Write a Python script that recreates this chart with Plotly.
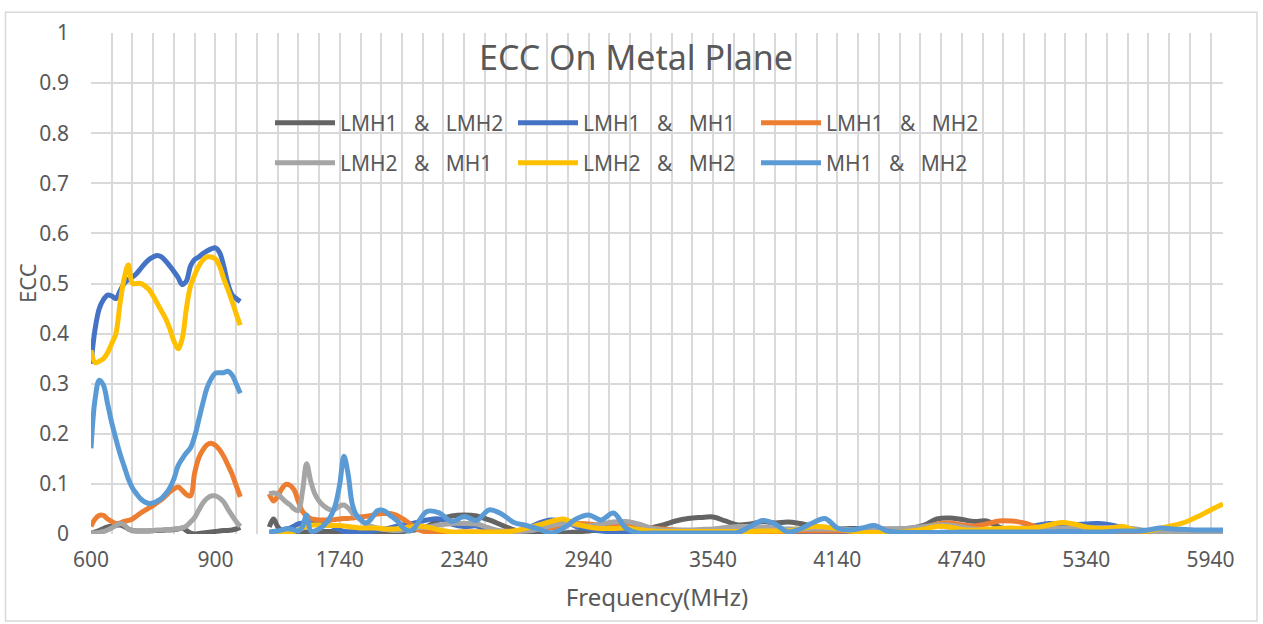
import plotly.graph_objects as go

# ---------------- categories (Excel category axis) ----------------
freq_low = list(range(600, 961, 10))            # 37 rows
gap_rows = 6                                     # empty rows in the sheet
freq_all_high = list(range(1400, 6001, 20))      # 231 rows
freq_mid = list(range(1400, 2081, 20))           # sampled values 1400-2080
freq_high = list(range(2100, 6001, 60))          # sampled values 2100-6000
tick_labels = ["600", "900", "1740", "2340", "2940", "3540", "4140", "4740", "5340", "5940"]

series_names = ["LMH1 & LMH2", "LMH1 & MH1", "LMH1 & MH2",
                "LMH2 & MH1", "LMH2 & MH2", "MH1 & MH2"]
series_colors = ["#646464", "#4472C4", "#ED7D31", "#A5A5A5", "#FFC000", "#5B9BD5"]

# ---------------- values ----------------
lmh1_lmh2_low = [0.002, 0.004, 0.007, 0.011, 0.014, 0.016, 0.017, 0.018, 0.015, 0.010,
                 0.007, 0.006, 0.006, 0.006, 0.006, 0.007, 0.007, 0.007, 0.008, 0.008,
                 0.009, 0.010, 0.012, 0.007, 0.002, 0.000, 0.001, 0.002, 0.003, 0.004,
                 0.005, 0.006, 0.007, 0.007, 0.008, 0.010, 0.013]
lmh1_mh1_low = [0.340, 0.410, 0.450, 0.468, 0.477, 0.475, 0.470, 0.485, 0.500, 0.508,
                0.513, 0.520, 0.530, 0.540, 0.548, 0.553, 0.556, 0.553, 0.545, 0.535,
                0.524, 0.512, 0.498, 0.505, 0.535, 0.548, 0.553, 0.560, 0.565, 0.569,
                0.571, 0.562, 0.535, 0.500, 0.478, 0.470, 0.464]
lmh1_mh2_low = [0.015, 0.030, 0.037, 0.037, 0.030, 0.025, 0.021, 0.022, 0.025, 0.027,
                0.030, 0.036, 0.042, 0.047, 0.052, 0.057, 0.063, 0.069, 0.076, 0.084,
                0.090, 0.094, 0.087, 0.079, 0.076, 0.122, 0.152, 0.168, 0.178, 0.181,
                0.177, 0.168, 0.155, 0.138, 0.120, 0.097, 0.074]
lmh2_mh1_low = [0.003, 0.002, 0.003, 0.005, 0.008, 0.012, 0.017, 0.021, 0.018, 0.010,
                0.007, 0.006, 0.006, 0.006, 0.007, 0.007, 0.008, 0.008, 0.009, 0.009,
                0.010, 0.011, 0.012, 0.016, 0.024, 0.033, 0.048, 0.062, 0.071, 0.076,
                0.076, 0.072, 0.064, 0.050, 0.037, 0.025, 0.015]
lmh2_mh2_low = [0.367, 0.342, 0.345, 0.350, 0.362, 0.380, 0.400, 0.460, 0.510, 0.537,
                0.500, 0.500, 0.500, 0.495, 0.488, 0.475, 0.460, 0.445, 0.430, 0.410,
                0.385, 0.370, 0.390, 0.450, 0.495, 0.517, 0.535, 0.547, 0.553, 0.553,
                0.549, 0.535, 0.510, 0.488, 0.465, 0.440, 0.417]
mh1_mh2_low = [0.171, 0.270, 0.307, 0.297, 0.260, 0.222, 0.190, 0.160, 0.135, 0.110,
               0.092, 0.080, 0.070, 0.064, 0.061, 0.062, 0.066, 0.071, 0.080, 0.092,
               0.110, 0.136, 0.150, 0.162, 0.172, 0.195, 0.228, 0.262, 0.292, 0.310,
               0.321, 0.322, 0.322, 0.325, 0.318, 0.300, 0.281]

lmh1_lmh2_mid = [0.014, 0.030, 0.015, 0.006, 0.004, 0.003, 0.003, 0.003, 0.004, 0.004,
                 0.004, 0.004, 0.004, 0.005, 0.005, 0.005, 0.004, 0.004, 0.004, 0.004,
                 0.004, 0.004, 0.004, 0.004, 0.004, 0.004, 0.004, 0.004, 0.004, 0.004,
                 0.004, 0.005, 0.005, 0.006, 0.007]
lmh1_mh1_mid = [0.003, 0.004, 0.006, 0.008, 0.010, 0.012, 0.016, 0.020, 0.022, 0.022,
                0.022, 0.021, 0.020, 0.020, 0.019, 0.017, 0.012, 0.008, 0.005, 0.004,
                0.004, 0.004, 0.004, 0.005, 0.005, 0.006, 0.008, 0.009, 0.010, 0.012,
                0.014, 0.016, 0.018, 0.019, 0.020]
lmh1_mh2_mid = [0.080, 0.066, 0.075, 0.090, 0.099, 0.097, 0.088, 0.065, 0.045, 0.036,
                0.031, 0.029, 0.028, 0.028, 0.028, 0.028, 0.029, 0.030, 0.031, 0.031,
                0.032, 0.033, 0.034, 0.035, 0.036, 0.038, 0.040, 0.041, 0.041, 0.041,
                0.039, 0.036, 0.031, 0.026, 0.020]
lmh2_mh1_mid = [0.080, 0.082, 0.080, 0.072, 0.064, 0.058, 0.050, 0.047, 0.085, 0.140,
                0.105, 0.080, 0.066, 0.057, 0.051, 0.048, 0.050, 0.056, 0.058, 0.052,
                0.042, 0.035, 0.028, 0.022, 0.017, 0.014, 0.012, 0.010, 0.009, 0.008,
                0.007, 0.007, 0.008, 0.009, 0.010]
lmh2_mh2_mid = [0.002, 0.002, 0.002, 0.003, 0.004, 0.004, 0.005, 0.008, 0.012, 0.016,
                0.018, 0.018, 0.018, 0.017, 0.017, 0.017, 0.017, 0.017, 0.016, 0.015,
                0.014, 0.013, 0.012, 0.012, 0.012, 0.012, 0.012, 0.011, 0.010, 0.010,
                0.010, 0.011, 0.012, 0.013, 0.014]
mh1_mh2_mid = [0.004, 0.005, 0.006, 0.008, 0.010, 0.010, 0.008, 0.006, 0.015, 0.038,
               0.006, 0.006, 0.010, 0.016, 0.025, 0.038, 0.060, 0.100, 0.155, 0.120,
               0.060, 0.038, 0.030, 0.022, 0.025, 0.035, 0.046, 0.048, 0.045, 0.038,
               0.032, 0.025, 0.015, 0.008, 0.006]

lmh1_lmh2_high = [0.008, 0.015, 0.028, 0.036, 0.038, 0.036, 0.028, 0.018, 0.008, 0.003,
                  0.001, 0.001, 0.002, 0.004, 0.006, 0.008, 0.008, 0.007, 0.008, 0.012,
                  0.018, 0.026, 0.031, 0.033, 0.034, 0.026, 0.018, 0.020, 0.025, 0.022,
                  0.024, 0.021, 0.016, 0.012, 0.010, 0.011, 0.011, 0.010, 0.010, 0.010,
                  0.012, 0.018, 0.030, 0.032, 0.029, 0.025, 0.026, 0.014, 0.006, 0.004,
                  0.003, 0.003, 0.003, 0.003, 0.003, 0.003, 0.003, 0.003, 0.003, 0.003,
                  0.003, 0.003, 0.003, 0.003, 0.003, 0.003]
lmh1_mh1_high = [0.022, 0.028, 0.030, 0.020, 0.015, 0.016, 0.008, 0.005, 0.004, 0.010,
                 0.022, 0.028, 0.025, 0.015, 0.010, 0.006, 0.004, 0.003, 0.003, 0.003,
                 0.003, 0.003, 0.003, 0.003, 0.003, 0.003, 0.003, 0.003, 0.003, 0.003,
                 0.003, 0.003, 0.003, 0.003, 0.003, 0.003, 0.003, 0.003, 0.003, 0.003,
                 0.003, 0.003, 0.003, 0.004, 0.005, 0.006, 0.007, 0.008, 0.010, 0.012,
                 0.017, 0.021, 0.020, 0.019, 0.020, 0.021, 0.018, 0.012, 0.006, 0.003,
                 0.002, 0.002, 0.002, 0.002, 0.002, 0.002]
lmh1_mh2_high = [0.012, 0.004, 0.003, 0.003, 0.004, 0.004, 0.004, 0.005, 0.006, 0.008,
                 0.010, 0.012, 0.016, 0.021, 0.020, 0.018, 0.021, 0.020, 0.015, 0.012,
                 0.010, 0.008, 0.006, 0.005, 0.004, 0.004, 0.004, 0.004, 0.004, 0.005,
                 0.005, 0.006, 0.006, 0.006, 0.006, 0.006, 0.006, 0.007, 0.008, 0.008,
                 0.010, 0.013, 0.020, 0.022, 0.018, 0.016, 0.020, 0.026, 0.026, 0.022,
                 0.014, 0.008, 0.005, 0.004, 0.004, 0.004, 0.004, 0.004, 0.005, 0.006,
                 0.006, 0.005, 0.004, 0.003, 0.003, 0.003]
lmh2_mh1_high = [0.012, 0.014, 0.018, 0.021, 0.021, 0.020, 0.012, 0.006, 0.005, 0.006,
                 0.010, 0.017, 0.021, 0.018, 0.016, 0.020, 0.024, 0.025, 0.020, 0.012,
                 0.008, 0.008, 0.008, 0.009, 0.010, 0.013, 0.015, 0.015, 0.014, 0.012,
                 0.010, 0.010, 0.010, 0.010, 0.010, 0.009, 0.008, 0.008, 0.009, 0.010,
                 0.012, 0.015, 0.018, 0.018, 0.014, 0.010, 0.009, 0.008, 0.008, 0.008,
                 0.008, 0.010, 0.012, 0.012, 0.012, 0.013, 0.013, 0.012, 0.010, 0.006,
                 0.003, 0.002, 0.002, 0.002, 0.002, 0.002]
lmh2_mh2_high = [0.016, 0.014, 0.008, 0.004, 0.004, 0.004, 0.004, 0.004, 0.006, 0.012,
                 0.018, 0.025, 0.030, 0.020, 0.014, 0.011, 0.011, 0.012, 0.009, 0.006,
                 0.005, 0.005, 0.005, 0.005, 0.005, 0.005, 0.005, 0.005, 0.006, 0.006,
                 0.006, 0.010, 0.015, 0.014, 0.011, 0.006, 0.003, 0.003, 0.004, 0.005,
                 0.006, 0.010, 0.015, 0.014, 0.009, 0.008, 0.010, 0.011, 0.012, 0.011,
                 0.013, 0.018, 0.023, 0.020, 0.014, 0.011, 0.012, 0.015, 0.007, 0.006,
                 0.012, 0.017, 0.024, 0.035, 0.048, 0.060]
mh1_mh2_high = [0.012, 0.045, 0.042, 0.025, 0.035, 0.027, 0.048, 0.040, 0.023, 0.017,
                0.010, 0.002, 0.012, 0.030, 0.038, 0.028, 0.042, 0.012, 0.002, 0.002,
                0.002, 0.002, 0.002, 0.002, 0.002, 0.002, 0.003, 0.015, 0.027, 0.020,
                0.004, 0.010, 0.022, 0.031, 0.012, 0.008, 0.012, 0.017, 0.006, 0.004,
                0.003, 0.003, 0.003, 0.003, 0.004, 0.004, 0.004, 0.004, 0.004, 0.004,
                0.004, 0.004, 0.005, 0.005, 0.004, 0.004, 0.005, 0.006, 0.006, 0.008,
                0.012, 0.010, 0.009, 0.008, 0.008, 0.008]

low_vals = [lmh1_lmh2_low, lmh1_mh1_low, lmh1_mh2_low, lmh2_mh1_low, lmh2_mh2_low, mh1_mh2_low]
mid_vals = [lmh1_lmh2_mid, lmh1_mh1_mid, lmh1_mh2_mid, lmh2_mh1_mid, lmh2_mh2_mid, mh1_mh2_mid]
high_vals = [lmh1_lmh2_high, lmh1_mh1_high, lmh1_mh2_high, lmh2_mh1_high, lmh2_mh2_high, mh1_mh2_high]

# ---------------- category positions ----------------
categories = [str(f) for f in freq_low] + [" " * (i + 1) for i in range(gap_rows)] + \
             [str(f) for f in freq_all_high]
cat_pos = {c: i for i, c in enumerate(categories)}

x_low = [cat_pos[str(f)] for f in freq_low]
x_high = [cat_pos[str(f)] for f in freq_mid + freq_high]

# ---------------- layout geometry ----------------
W, H = 1263, 624
ML, MR, MT, MB = 91, 40, 33, 90
PW, PH = W - ML - MR, H - MT - MB


def px_x(px):
    return (px - ML) / PW


def px_y(py):
    return (H - MB - py) / PH


FONT = "Noto Sans, DejaVu Sans, sans-serif"
TXT = "#595959"
GRID = "#d9d9d9"
NB = "\u00a0"

fig = go.Figure()
for i, name in enumerate(series_names):
    assert len(low_vals[i]) == len(freq_low)
    assert len(mid_vals[i]) == len(freq_mid)
    assert len(high_vals[i]) == len(freq_high)
    label = name.replace(" & ", NB * 3 + "&" + NB * 3)
    fig.add_trace(go.Scatter(
        x=x_low + [None] + x_high,
        y=low_vals[i] + [None] + mid_vals[i] + high_vals[i],
        mode="lines",
        name=label,
        line=dict(color=series_colors[i], width=5, shape="spline", smoothing=1.0),
        connectgaps=False,
        legend="legend" if i < 3 else "legend2",
        hoverinfo="skip",
    ))

tickvals = list(range(0, len(categories), 5))
ticktext = [categories[v] if categories[v] in tick_labels else "" for v in tickvals]

legend_common = dict(
    orientation="h", xanchor="left", yanchor="middle",
    entrywidth=168, entrywidthmode="pixels", itemwidth=60,
    font=dict(family=FONT, size=21, color=TXT),
    bgcolor="rgba(0,0,0,0)", traceorder="normal",
)

fig.update_layout(
    width=W, height=H,
    margin=dict(l=ML, r=MR, t=MT, b=MB),
    paper_bgcolor="white", plot_bgcolor="white",
    font=dict(family=FONT, color=TXT),
    title=dict(text="ECC On Metal Plane", x=636 / W, y=1 - 58 / H,
               xanchor="center", yanchor="middle", xref="container", yref="container",
               font=dict(family=FONT, size=34, color=TXT)),
    xaxis=dict(range=[0, len(categories) - 1], tickmode="array", tickvals=tickvals,
               ticktext=ticktext, showgrid=True, gridcolor=GRID, gridwidth=1.6,
               zeroline=False, showline=False, ticks="", ticklabelstandoff=11,
               tickfont=dict(family=FONT, size=21, color=TXT),
               title=dict(text="Frequency(MHz)", standoff=17,
                          font=dict(family=FONT, size=24, color=TXT))),
    yaxis=dict(range=[0, 1], dtick=0.1, tick0=0, showgrid=True, gridcolor=GRID,
               gridwidth=1.6, zeroline=False, showline=False, ticks="",
               ticklabelstandoff=21,
               tickfont=dict(family=FONT, size=21, color=TXT)),
    annotations=[dict(text="ECC", xref="paper", yref="paper",
                      x=px_x(27), y=px_y(283), xanchor="center", yanchor="middle",
                      textangle=-90, showarrow=False,
                      font=dict(family=FONT, size=22, color=TXT))],
    legend=dict(x=px_x(270), y=px_y(123), **legend_common),
    legend2=dict(x=px_x(270), y=px_y(163), **legend_common),
    showlegend=True,
    shapes=[dict(type="rect", xref="paper", yref="paper",
                 x0=px_x(5.5), x1=px_x(1257), y0=px_y(621), y1=px_y(12.3),
                 line=dict(color=GRID, width=1.5), fillcolor="rgba(0,0,0,0)",
                 layer="below")],
)

fig.write_html("out.html", config={"displayModeBar": False},
               post_script="document.body.style.margin='0px';document.body.style.overflow='hidden';")
